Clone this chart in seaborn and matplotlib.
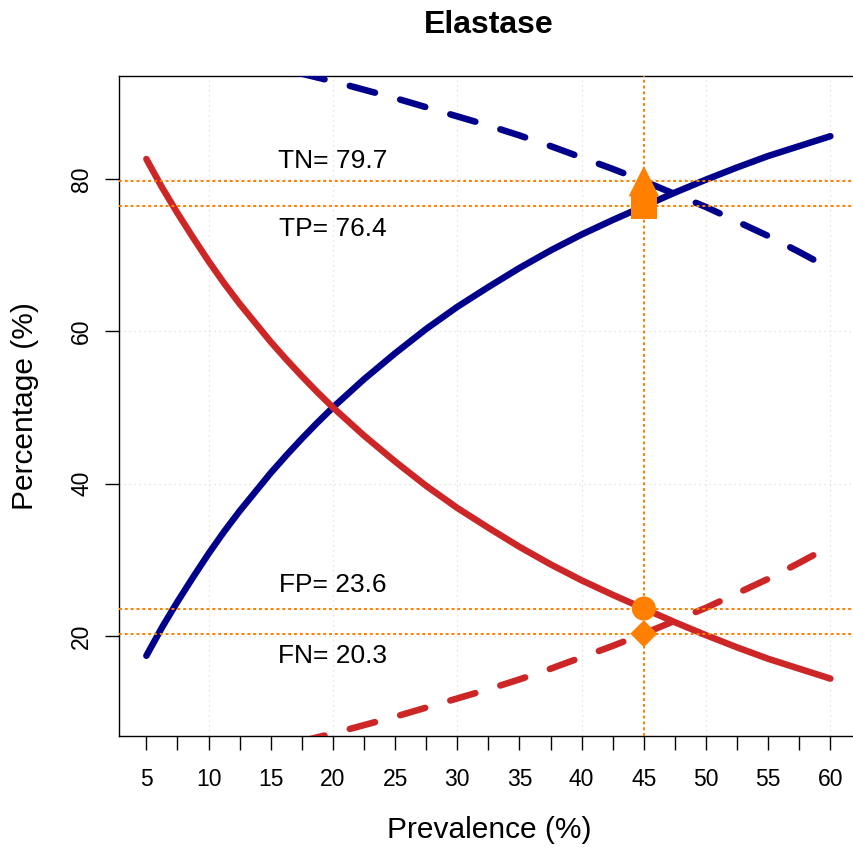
import numpy as np
import pandas as pd
import matplotlib
matplotlib.use("Agg")
import matplotlib.pyplot as plt
import seaborn as sns

# ---------------- data ----------------
prevalence = [5, 6.25, 7.5, 8.75, 10, 11.25, 12.5, 13.75, 15, 16.25, 17.5, 18.75,
              20, 22.5, 25, 27.5, 30, 32.5, 35, 37.5, 40, 42.5, 45, 47.5, 50,
              52.5, 55, 57.5, 60]
tp_curve = [17.4, 21.1, 24.5, 27.7, 30.8, 33.7, 36.4, 38.9, 41.4, 43.7, 45.9, 48.0,
            50.0, 53.7, 57.1, 60.3, 63.2, 65.8, 68.3, 70.6, 72.7, 74.6, 76.4, 78.2,
            79.9, 81.5, 83.0, 84.3, 85.6]
fp_curve = [82.6, 78.9, 75.5, 72.3, 69.2, 66.3, 63.6, 61.1, 58.6, 56.3, 54.1, 52.0,
            50.0, 46.3, 42.9, 39.7, 36.8, 34.2, 31.7, 29.4, 27.3, 25.4, 23.6, 21.8,
            20.1, 18.5, 17.0, 15.7, 14.4]
tn_curve = [98.4, 98.0, 97.5, 97.1, 96.7, 96.2, 95.7, 95.3, 94.8, 94.3, 93.8, 93.3,
            92.8, 91.7, 90.6, 89.4, 88.2, 87.0, 85.7, 84.3, 82.8, 81.3, 79.7, 78.0,
            76.3, 74.4, 72.5, 70.4, 68.2]
fn_curve = [1.6, 2.0, 2.5, 2.9, 3.3, 3.8, 4.3, 4.7, 5.2, 5.7, 6.2, 6.7,
            7.2, 8.3, 9.4, 10.6, 11.8, 13.0, 14.3, 15.7, 17.2, 18.7, 20.3, 22.0,
            23.7, 25.6, 27.5, 29.6, 31.8]

chosen_prevalence = 45
point_labels = ["TN", "TP", "FP", "FN"]
point_values = [79.7, 76.4, 23.6, 20.3]

x_ticks = [5, 10, 15, 20, 25, 30, 35, 40, 45, 50, 55, 60]
y_ticks = [20, 40, 60, 80]

title = "Elastase"
x_label = "Prevalence (%)"
y_label = "Percentage (%)"

# ---------------- styling ----------------
BLUE = "#00008B"
RED = "#CD2626"
ORANGE = "#FF7F00"

sns.set_style("white")
plt.rcParams["font.family"] = ["Liberation Sans", "DejaVu Sans"]
plt.rcParams["text.color"] = "black"
plt.rcParams["axes.labelcolor"] = "black"
plt.rcParams["xtick.color"] = "black"
plt.rcParams["ytick.color"] = "black"

fig = plt.figure(figsize=(8.54, 8.47), dpi=100)
ax = fig.add_axes([119 / 854, 111 / 847, (859 - 119) / 854, (736 - 76) / 847])

df = pd.DataFrame({"prev": prevalence, "tp": tp_curve, "fp": fp_curve,
                   "tn": tn_curve, "fn": fn_curve})

# grid
for gx in [10, 20, 30, 40, 50, 60]:
    ax.axvline(gx, color="#dcdcdc", lw=0.9, ls=(0, (1, 3)), zorder=0)
for gy in y_ticks:
    ax.axhline(gy, color="#dcdcdc", lw=0.9, ls=(0, (1, 3)), zorder=0)

LW = 4.7
sns.lineplot(data=df, x="prev", y="tp", ax=ax, color=BLUE, lw=LW,
             solid_capstyle="round", solid_joinstyle="round", zorder=3)
sns.lineplot(data=df, x="prev", y="fp", ax=ax, color=RED, lw=LW,
             solid_capstyle="round", solid_joinstyle="round", zorder=3)
sns.lineplot(data=df, x="prev", y="tn", ax=ax, color=BLUE, lw=LW,
             linestyle=(0, (4, 4)), dash_capstyle="round", zorder=3)
sns.lineplot(data=df, x="prev", y="fn", ax=ax, color=RED, lw=LW,
             linestyle=(0, (4, 4)), dash_capstyle="round", zorder=3)

# orange reference lines
for v in point_values:
    ax.axhline(v, color=ORANGE, lw=1.4, ls=(0, (1.5, 1.5)), zorder=4)
ax.axvline(chosen_prevalence, color=ORANGE, lw=1.4, ls=(0, (1.5, 1.5)), zorder=4)

# markers
markers = ["^", "s", "o", "D"]
sizes = [480, 340, 300, 190]
for v, m, s in zip(point_values, markers, sizes):
    sns.scatterplot(x=[chosen_prevalence], y=[v], marker=m, s=s, color=ORANGE,
                    edgecolor="none", ax=ax, zorder=5, legend=False)

# annotations
offsets = [2.6, -3.0, 3.1, -2.9]
for lab, v, off in zip(point_labels, point_values, offsets):
    ax.text(20, v + off, f"{lab}= {v}", ha="center", va="center",
            fontsize=19, color="black", zorder=6)

ax.set_xlim(2.8, 62.3)
ax.set_ylim(6.87, 93.5)

ax.set_xticks(x_ticks)
ax.set_xticks([t + 2.5 for t in x_ticks[:-1]], minor=True)
ax.set_xticklabels([str(t) for t in x_ticks])
ax.set_yticks(y_ticks)
ax.set_yticklabels([str(t) for t in y_ticks], rotation=90, va="center")

ax.tick_params(axis="both", which="both", direction="out", length=10,
               width=1.0, color="black", labelsize=16.5, labelcolor="black",
               bottom=True, left=True)
ax.tick_params(axis="x", which="major", pad=13)
ax.tick_params(axis="y", which="major", pad=8.5)

for sp in ["left", "top", "bottom"]:
    ax.spines[sp].set_visible(True)
    ax.spines[sp].set_color("black")
    ax.spines[sp].set_linewidth(1.0)
ax.spines["right"].set_visible(False)

ax.set_xlabel(x_label, fontsize=21.5, labelpad=18)
ax.set_ylabel(y_label, fontsize=21.5, labelpad=22.5)
ax.set_title(title, fontsize=23, fontweight="bold", pad=31)

fig.savefig("out.png", dpi=100)
